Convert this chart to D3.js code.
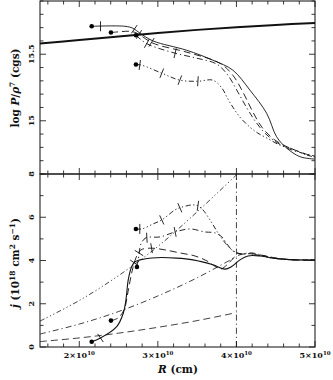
<!DOCTYPE html>
<html>
<head>
<meta charset="utf-8">
<script src="https://cdn.jsdelivr.net/npm/d3@7"></script>
<style>
  body { margin: 0; background: #fff; }
  text { font-family: "DejaVu Serif", serif; fill: #111; font-weight: bold; }
</style>
</head>
<body>
<script>
// radius in units of 1e10 cm
const xTicksMajor = [2, 3, 4, 5];
const topTickLabels = [15, 15.5];
const botTickLabels = [0, 2, 4, 6, 8];

// thick reference curve (top panel)
const rThick = [1.5, 2.0, 2.5, 3.0, 3.5, 4.0, 4.5, 5.0];
const pThick = [15.58, 15.607, 15.633, 15.66, 15.683, 15.703, 15.72, 15.735];

// top panel: log P/rho^7 for the four runs
const rTopA = [2.158, 2.581, 2.683, 2.772, 2.938, 3.366, 3.701, 3.955, 4.172, 4.384, 4.511, 4.639, 4.808, 4.999];
const pTopA = [15.71, 15.71, 15.695, 15.658, 15.60, 15.53, 15.455, 15.38, 15.23, 15.057, 14.88, 14.795, 14.73, 14.712];
const rTopB = [2.403, 2.518, 2.645, 2.734, 2.938, 3.37, 3.79, 3.955, 4.083, 4.197, 4.324, 4.49, 4.681, 4.999];
const pTopB = [15.663, 15.669, 15.672, 15.658, 15.583, 15.515, 15.432, 15.342, 15.215, 15.08, 14.952, 14.855, 14.795, 14.727];
const rTopC = [2.721, 2.81, 2.9, 3.218, 3.497, 3.752, 3.892, 4.019, 4.134, 4.248, 4.375, 4.528, 4.706, 4.999];
const pTopC = [15.643, 15.598, 15.568, 15.508, 15.47, 15.425, 15.342, 15.215, 15.095, 14.99, 14.9, 14.832, 14.78, 14.735];
const rTopD = [2.721, 2.798, 3.052, 3.281, 3.51, 3.701, 3.816, 3.879, 3.955, 4.045, 4.172, 4.273, 4.388, 4.553, 4.681, 4.897, 4.999];
const pTopD = [15.423, 15.417, 15.357, 15.305, 15.297, 15.305, 15.245, 15.177, 15.102, 15.027, 14.952, 14.907, 14.87, 14.817, 14.795, 14.742, 14.727];

// bottom panel: j in 1e18 cm^2/s
const rBotA = [2.158, 2.263, 2.476, 2.56, 2.594, 2.623, 2.667, 2.709, 2.772, 2.985, 3.239, 3.447, 3.701, 3.854, 3.939, 4.045, 4.146, 4.299, 4.464, 4.719, 4.999];
const jBotA = [0.245, 0.40, 0.94, 1.56, 2.18, 3.10, 3.72, 3.94, 4.03, 4.13, 4.11, 4.03, 3.80, 3.60, 3.72, 4.03, 4.21, 4.21, 4.11, 4.03, 4.03];
const rBotB = [2.403, 2.492, 2.569, 2.62, 2.67, 2.721, 2.785, 2.921, 3.09, 3.281, 3.472, 3.625, 3.739, 3.803, 3.892, 3.981, 4.108, 4.299, 4.49, 4.719, 4.999];
const jBotB = [1.22, 1.34, 1.71, 2.55, 3.47, 4.12, 4.49, 4.57, 4.49, 4.35, 4.21, 3.98, 3.70, 3.61, 3.84, 4.17, 4.31, 4.26, 4.12, 4.03, 4.00];
const rBotC = [2.734, 2.76, 2.785, 2.849, 3.027, 3.218, 3.408, 3.599, 3.726, 3.815, 3.879, 3.955, 4.045, 4.197, 4.363, 4.553, 4.808, 4.999];
const jBotC = [3.70, 4.26, 4.77, 5.05, 5.09, 5.32, 5.46, 5.32, 5.28, 5.09, 4.77, 4.44, 4.31, 4.35, 4.21, 4.07, 4.03, 4.03];
const rBotD = [2.721, 2.798, 2.938, 3.052, 3.218, 3.281, 3.434, 3.51, 3.574, 3.663, 3.765, 3.866, 3.943, 4.045, 4.197, 4.363, 4.553, 4.808, 4.999];
const jBotD = [5.46, 5.46, 5.69, 5.88, 6.34, 6.44, 6.57, 6.53, 6.34, 5.88, 5.28, 4.77, 4.49, 4.31, 4.31, 4.17, 4.07, 4.03, 4.03];

// initial j profiles
const rInit = [1.5, 2.0, 2.5, 3.0, 3.5, 4.0];
const jInitB = [0.25, 0.42, 0.64, 0.91, 1.22, 1.59];
const jInitC = [0.6, 1.06, 1.64, 2.36, 3.2, 4.18];
const jInitD = [1.2, 2.15, 3.3, 4.65, 6.25, 7.96];
const rEdge = [4.0, 4.0];
const jEdge = [0, 8];

// time marks along each run
const marksA = [2.27, 2.70];
const marksB = [2.76, 2.92];
const marksC = [2.86, 3.22];
const marksD = [2.77, 3.05, 3.28, 3.51];

const dash = {
  A: null,
  B: "7,4",
  C: "6,3,1.2,3",
  D: "5,2.5,1.2,2.5,1.2,2.5,1.2,2.5"
};

const width = 333, height = 380;
const svg = d3.select("body").append("svg")
  .attr("width", width).attr("height", height);

const x = d3.scaleLinear().domain([1.5, 5]).range([40, 315]);
const yTop = d3.scaleLinear().domain([14.6, 15.9]).range([174, 1]);
const yBot = d3.scaleLinear().domain([0, 8]).range([347, 174]);

function zip(a, b) { return a.map((d, i) => [d, b[i]]); }

function panelFrame(y, minorStep, majorVals, labels) {
  const g = svg.append("g");
  const [y0, y1] = y.domain();
  const top = y.range()[1], bot = y.range()[0];
  // x ticks top and bottom, inward
  d3.range(1.6, 5.0001, 0.2).forEach(v => {
    const major = xTicksMajor.some(m => Math.abs(m - v) < 1e-6);
    const len = major ? 6 : 3.5;
    g.append("line").attr("x1", x(v)).attr("x2", x(v)).attr("y1", bot).attr("y2", bot - len);
    g.append("line").attr("x1", x(v)).attr("x2", x(v)).attr("y1", top).attr("y2", top + len);
  });
  d3.range(Math.ceil(y0 / minorStep) * minorStep, y1 + 1e-6, minorStep).forEach(v => {
    const major = majorVals.some(m => Math.abs(m - v) < 1e-6);
    const len = major ? 6 : 3.5;
    g.append("line").attr("x1", 40).attr("x2", 40 + len).attr("y1", y(v)).attr("y2", y(v));
    g.append("line").attr("x1", 315).attr("x2", 315 - len).attr("y1", y(v)).attr("y2", y(v));
  });
  g.selectAll("line").attr("stroke", "#222").attr("stroke-width", 0.9);
  g.append("rect").attr("x", 40).attr("y", top).attr("width", 275).attr("height", bot - top)
    .attr("fill", "none").attr("stroke", "#222").attr("stroke-width", 1.1);
  labels.forEach(v => {
    g.append("text")
      .attr("transform", `translate(34,${y(v)}) rotate(-90)`)
      .attr("text-anchor", "middle")
      .attr("font-size", 8)
      .text(v);
  });
}

panelFrame(yTop, 0.1, [15, 15.5], topTickLabels);
panelFrame(yBot, 1, [0, 2, 4, 6, 8], botTickLabels);

// x tick labels
xTicksMajor.forEach(v => {
  const t = svg.append("text")
    .attr("x", x(v)).attr("y", 358)
    .attr("text-anchor", "middle")
    .attr("font-size", 8);
  t.append("tspan").text(v + "×10");
  t.append("tspan").attr("dy", -3.5).attr("font-size", 5.5).text("10");
});

// axis titles
const xt = svg.append("text").attr("x", 178).attr("y", 373).attr("text-anchor", "middle")
  .attr("font-size", 10.5);
xt.append("tspan").attr("font-style", "italic").text("R");
xt.append("tspan").text(" (cm)");

const yt1 = svg.append("text").attr("transform", "translate(19,88) rotate(-90)")
  .attr("text-anchor", "middle").attr("font-size", 10.5);
yt1.append("tspan").text("log ");
yt1.append("tspan").attr("font-style", "italic").text("P");
yt1.append("tspan").text("/");
yt1.append("tspan").attr("font-style", "italic").text("ρ");
yt1.append("tspan").attr("dy", -4).attr("font-size", 7.5).text("7");
yt1.append("tspan").attr("dy", 4).text(" (cgs)");

const yt2 = svg.append("text").attr("transform", "translate(19,263) rotate(-90)")
  .attr("text-anchor", "middle").attr("font-size", 10.5);
yt2.append("tspan").attr("font-style", "italic").text("j");
yt2.append("tspan").text(" (10");
yt2.append("tspan").attr("dy", -4).attr("font-size", 7.5).text("18");
yt2.append("tspan").attr("dy", 4).text(" cm");
yt2.append("tspan").attr("dy", -4).attr("font-size", 7.5).text("2");
yt2.append("tspan").attr("dy", 4).text(" s");
yt2.append("tspan").attr("dy", -4).attr("font-size", 7.5).text("−1");
yt2.append("tspan").attr("dy", 4).text(")");

const line = (y) => d3.line().x(d => x(d[0])).y(d => y(d[1])).curve(d3.curveCatmullRom.alpha(0.5));

function drawCurve(pts, y, style, w, startDot, marks) {
  const g = svg.append("g");
  g.append("path").attr("d", line(y)(pts))
    .attr("fill", "none").attr("stroke", "#111")
    .attr("stroke-width", w)
    .attr("stroke-dasharray", style);
  if (startDot) {
    g.append("circle").attr("cx", x(pts[0][0])).attr("cy", y(pts[0][1])).attr("r", 2.3).attr("fill", "#000");
  }
  (marks || []).forEach(r => {
    const px = pts.map(d => [x(d[0]), y(d[1])]);
    const xr = x(r);
    let i = 0;
    while (i < px.length - 2 && px[i + 1][0] < xr) i++;
    const a = px[i], b = px[i + 1];
    const t = (xr - a[0]) / (b[0] - a[0]);
    const cx = a[0] + t * (b[0] - a[0]), cy = a[1] + t * (b[1] - a[1]);
    const dx = b[0] - a[0], dy = b[1] - a[1];
    const L = Math.hypot(dx, dy);
    const nx = -dy / L, ny = dx / L;
    g.append("line")
      .attr("x1", cx - nx * 5).attr("y1", cy - ny * 5)
      .attr("x2", cx + nx * 5).attr("y2", cy + ny * 5)
      .attr("stroke", "#111").attr("stroke-width", 0.9);
  });
}

// top panel
drawCurve(zip(rThick, pThick), yTop, null, 2, false);
drawCurve(zip(rTopD, pTopD), yTop, dash.D, 0.9, true, marksD);
drawCurve(zip(rTopC, pTopC), yTop, dash.C, 0.9, true, marksC);
drawCurve(zip(rTopB, pTopB), yTop, dash.B, 0.9, true, marksB);
drawCurve(zip(rTopA, pTopA), yTop, dash.A, 0.9, true, marksA);

// bottom panel
drawCurve(zip(rInit, jInitB), yBot, dash.B, 0.8, false);
drawCurve(zip(rInit, jInitC), yBot, dash.C, 0.8, false);
drawCurve(zip(rInit, jInitD), yBot, dash.D, 0.8, false);
drawCurve(zip(rEdge, jEdge), yBot, dash.C, 0.8, false);
drawCurve(zip(rBotD, jBotD), yBot, dash.D, 0.9, true, marksD);
drawCurve(zip(rBotC, jBotC), yBot, dash.C, 0.9, true, marksC);
drawCurve(zip(rBotB, jBotB), yBot, dash.B, 0.9, true, marksB);
drawCurve(zip(rBotA, jBotA), yBot, dash.A, 1.1, true, marksA);
</script>
</body>
</html>
